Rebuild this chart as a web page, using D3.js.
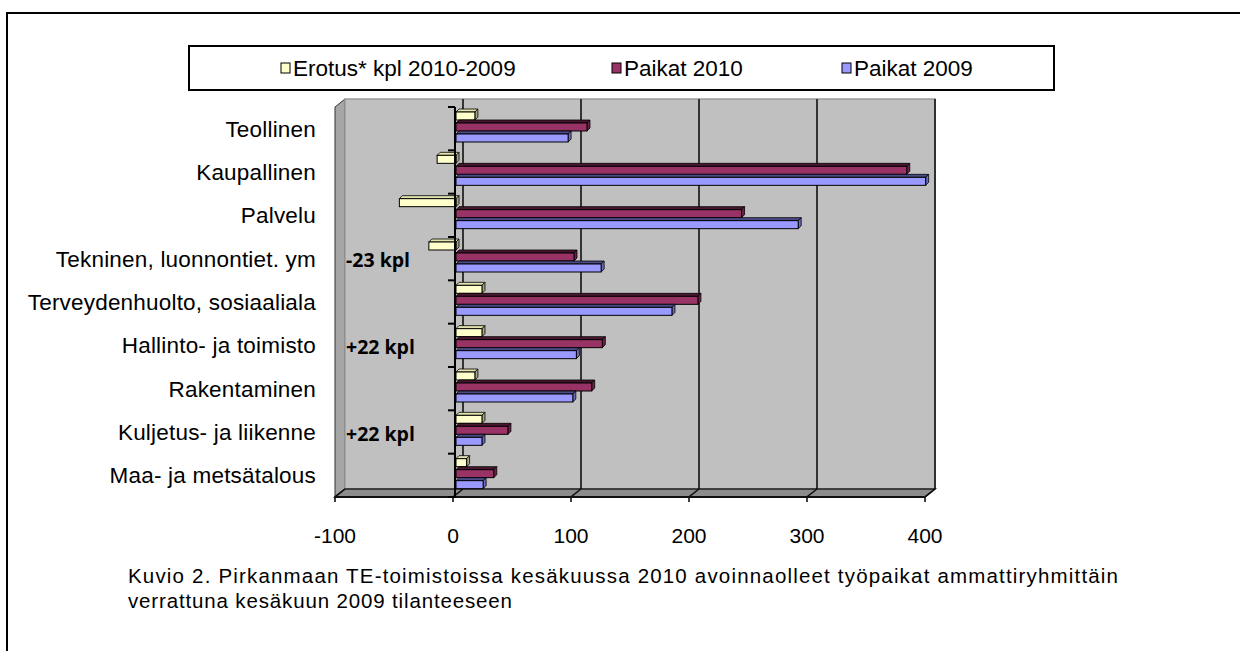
<!DOCTYPE html>
<html>
<head>
<meta charset="utf-8">
<script src="https://cdn.jsdelivr.net/npm/d3@7"></script>
<style>
body { margin: 0; background: #fff; }
text { font-family: "Liberation Sans", Arial, sans-serif; fill: #000; }
</style>
</head>
<body>
<div id="chart"></div>
<script>
// Data (top to bottom)
var categories = ["Teollinen", "Kaupallinen", "Palvelu", "Tekninen, luonnontiet. ym",
    "Terveydenhuolto, sosiaaliala", "Hallinto- ja toimisto", "Rakentaminen",
    "Kuljetus- ja liikenne", "Maa- ja metsätalous"];
var erotus = [16, -16, -48, -23, 22, 22, 16, 22, 9];
var paikat2010 = [111, 382, 242, 100, 205, 124, 115, 44, 32];
var paikat2009 = [95, 398, 290, 123, 183, 102, 99, 22, 23];
var seriesNames = ["Erotus* kpl 2010-2009", "Paikat 2010", "Paikat 2009"];
var xTicks = [-100, 0, 100, 200, 300, 400];
var noteCats = ["Tekninen, luonnontiet. ym", "Hallinto- ja toimisto", "Kuljetus- ja liikenne"];
var noteTexts = ["-23 kpl", "+22 kpl", "+22 kpl"];
var caption = ["Kuvio 2. Pirkanmaan TE-toimistoissa kesäkuussa 2010 avoinnaolleet työpaikat ammattiryhmittäin",
    "verrattuna kesäkuun 2009 tilanteeseen"];
var captionWidths = [990, 384];

var svgWidth = 1240;
var svgHeight = 651;

// 3D look: back wall is shifted right/up from the front plane
var depth = { dx: 10, dy: -8 };
var barDepth = 3;

var svg = d3.select("#chart")
    .append("svg")
    .attr("width", svgWidth)
    .attr("height", svgHeight);

// outer frame (runs off the right and bottom edges)
svg.append("rect")
    .attr("x", 7).attr("y", 13)
    .attr("width", 1260).attr("height", 700)
    .attr("fill", "none")
    .attr("stroke", "#000")
    .attr("stroke-width", 2);

// scales for the front plane
var xScale = d3.scaleLinear().domain([-100, 400]).range([335, 925]);
var yScale = d3.scaleBand().domain(categories).range([107, 497]).padding(0);

var x0 = xScale(-100), x1 = xScale(400);
var yTop = 107, yBot = 497;

// side wall
svg.append("polygon")
    .attr("points", [[x0, yTop], [x0 + depth.dx, yTop + depth.dy], [x0 + depth.dx, yBot + depth.dy], [x0, yBot]].join(" "))
    .attr("fill", "#a6a6a6")
    .attr("stroke", "#333")
    .attr("stroke-width", 1);

// back wall
svg.append("rect")
    .attr("x", x0 + depth.dx)
    .attr("y", yTop + depth.dy)
    .attr("width", x1 - x0)
    .attr("height", yBot - yTop)
    .attr("fill", "#c0c0c0")
    .attr("stroke", "#9a9a9a")
    .attr("stroke-width", 1.5);

// floor
svg.append("polygon")
    .attr("points", [[x0, yBot], [x1, yBot], [x1 + depth.dx, yBot + depth.dy], [x0 + depth.dx, yBot + depth.dy]].join(" "))
    .attr("fill", "#8c8c8c")
    .attr("stroke", "#222")
    .attr("stroke-width", 1.5);

// gridlines on the back wall
svg.selectAll(".grid")
    .data(xTicks.filter(d => d > -100))
    .enter()
    .append("line")
    .attr("x1", d => xScale(d) + depth.dx)
    .attr("x2", d => xScale(d) + depth.dx)
    .attr("y1", yTop + depth.dy)
    .attr("y2", yBot + depth.dy)
    .attr("stroke", "#111")
    .attr("stroke-width", 1.6);

// floor diagonals + front ticks
svg.selectAll(".fdiag")
    .data(xTicks)
    .enter()
    .append("path")
    .attr("d", d => "M" + xScale(d) + "," + (yBot + 5) + "V" + yBot + "L" + (xScale(d) + depth.dx) + "," + (yBot + depth.dy))
    .attr("fill", "none")
    .attr("stroke", "#111")
    .attr("stroke-width", 1.6);

// front edge of floor
svg.append("line")
    .attr("x1", x0).attr("x2", x1)
    .attr("y1", yBot).attr("y2", yBot)
    .attr("stroke", "#111")
    .attr("stroke-width", 2);

// x tick labels
svg.selectAll(".xlab")
    .data(xTicks)
    .enter()
    .append("text")
    .attr("x", d => xScale(d))
    .attr("y", 543)
    .attr("text-anchor", "middle")
    .attr("font-size", "21px")
    .text(d => d);

// bars
var series = [
    { values: erotus, front: "#ffffcc", top: "#e3e3b0", end: "#a8a884" },
    { values: paikat2010, front: "#993366", top: "#4a1730", end: "#6a2447" },
    { values: paikat2009, front: "#9999ff", top: "#4b4b85", end: "#6b6bb8" }
];
var barH = 8, barStep = 11, barOff = 5;
var zeroX = xScale(0) + 3;

series.forEach(function (s, k) {
    var g = svg.append("g");
    var rows = categories.map(function (c, i) {
        var xv = xScale(s.values[i]) + 3;
        return {
            xa: Math.min(xv, zeroX),
            xb: Math.max(xv, zeroX),
            y: yScale(c) + barOff + k * barStep
        };
    });
    // top face
    g.selectAll(".top")
        .data(rows)
        .enter()
        .append("polygon")
        .attr("points", d => [[d.xa, d.y], [d.xb, d.y], [d.xb + barDepth, d.y - barDepth], [d.xa + barDepth, d.y - barDepth]].join(" "))
        .attr("fill", s.top)
        .attr("stroke", "#000")
        .attr("stroke-width", 0.8);
    // end face
    g.selectAll(".end")
        .data(rows)
        .enter()
        .append("polygon")
        .attr("points", d => [[d.xb, d.y], [d.xb + barDepth, d.y - barDepth], [d.xb + barDepth, d.y + barH - barDepth], [d.xb, d.y + barH]].join(" "))
        .attr("fill", s.end)
        .attr("stroke", "#000")
        .attr("stroke-width", 0.8);
    // front face
    g.selectAll(".front")
        .data(rows)
        .enter()
        .append("rect")
        .attr("x", d => d.xa)
        .attr("y", d => d.y)
        .attr("width", d => d.xb - d.xa)
        .attr("height", barH)
        .attr("fill", s.front)
        .attr("stroke", "#000")
        .attr("stroke-width", 1);
});

// category axis at zero
var axisX = xScale(0) + 2;
svg.append("line")
    .attr("x1", axisX).attr("x2", axisX)
    .attr("y1", yTop).attr("y2", yBot)
    .attr("stroke", "#000")
    .attr("stroke-width", 2);
svg.selectAll(".ytick")
    .data(categories.concat(["_end"]))
    .enter()
    .append("line")
    .attr("x1", axisX - 7).attr("x2", axisX)
    .attr("y1", (d, i) => yTop + i * yScale.bandwidth())
    .attr("y2", (d, i) => yTop + i * yScale.bandwidth())
    .attr("stroke", "#000")
    .attr("stroke-width", 2);

// category labels
svg.selectAll(".ylab")
    .data(categories)
    .enter()
    .append("text")
    .attr("x", 316)
    .attr("y", d => yScale(d) + yScale.bandwidth() / 2)
    .attr("dy", "0.35em")
    .attr("text-anchor", "end")
    .attr("font-size", "22.5px")
    .attr("letter-spacing", "0.2px")
    .text(d => d);

// bold notes
svg.selectAll(".note")
    .data(noteCats)
    .enter()
    .append("text")
    .attr("x", 346)
    .attr("y", d => yScale(d) + yScale.bandwidth() / 2 + 2)
    .attr("dy", "0.35em")
    .attr("font-size", "19.5px")
    .attr("font-weight", "bold")
    .style("font-family", "'Open Sans', 'DejaVu Sans', sans-serif")
    .text((d, i) => noteTexts[i]);

// legend
var legend = svg.append("g");
legend.append("rect")
    .attr("x", 189).attr("y", 46)
    .attr("width", 865).attr("height", 44)
    .attr("fill", "#fff")
    .attr("stroke", "#000")
    .attr("stroke-width", 2);
var legendX = [281, 612, 842];
var legendItems = legend.selectAll(".item")
    .data(seriesNames)
    .enter()
    .append("g")
    .attr("transform", (d, i) => `translate(${legendX[i]}, 68)`);
legendItems.append("rect")
    .attr("x", 0).attr("y", -5)
    .attr("width", 9).attr("height", 10)
    .attr("fill", (d, i) => series[i].front)
    .attr("stroke", "#000")
    .attr("stroke-width", 1);
legendItems.append("text")
    .attr("x", 12)
    .attr("dy", "0.35em")
    .attr("font-size", "22.5px")
    .text(d => d);

// caption, stretched to the widths seen in the picture
svg.selectAll(".caption")
    .data(caption)
    .enter()
    .append("text")
    .attr("x", 128)
    .attr("y", (d, i) => 583 + i * 25)
    .attr("font-size", "20.5px")
    .attr("textLength", (d, i) => captionWidths[i])
    .attr("lengthAdjust", "spacing")
    .text(d => d);
</script>
</body>
</html>
